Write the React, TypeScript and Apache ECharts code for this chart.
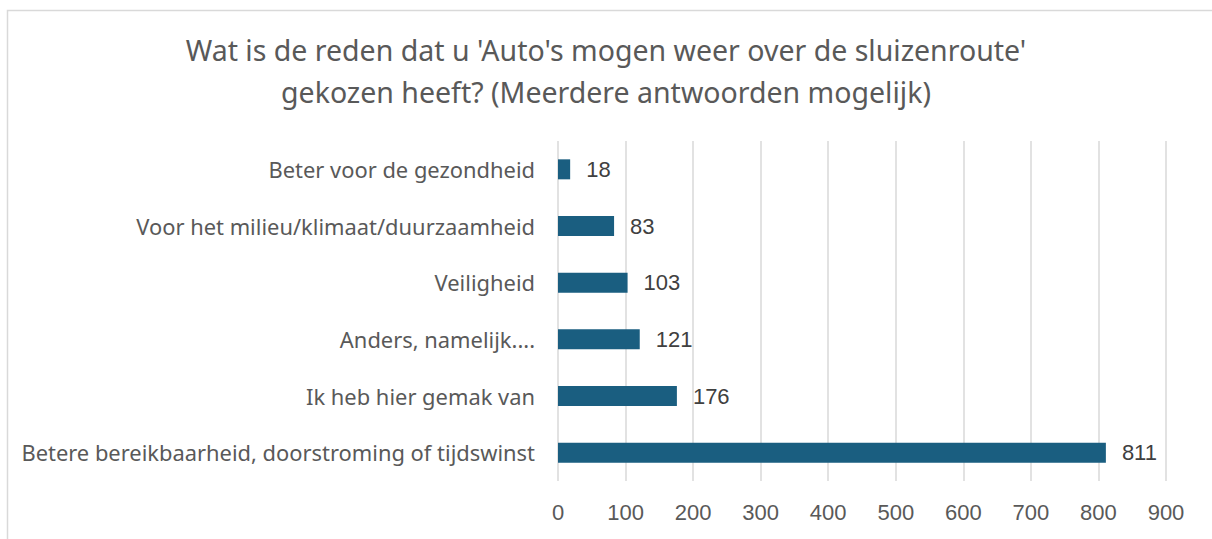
import React, { useEffect, useRef } from "react";
import * as echarts from "echarts";

const categories = [
  "Betere bereikbaarheid, doorstroming of tijdswinst",
  "Ik heb hier gemak van",
  "Anders, namelijk....",
  "Veiligheid",
  "Voor het milieu/klimaat/duurzaamheid",
  "Beter voor de gezondheid",
];
const values = [811, 176, 121, 103, 83, 18];
const titleLines = [
  "Wat is de reden dat u 'Auto's mogen weer over de sluizenroute'",
  "gekozen heeft? (Meerdere antwoorden mogelijk)",
];

export default function App() {
  const ref = useRef<HTMLDivElement>(null);
  useEffect(() => {
    if (!ref.current) return;
    const chart = echarts.init(ref.current, undefined, { renderer: "svg" });
    chart.setOption({
      animation: false,
      backgroundColor: "#ffffff",
      title: {
        text: titleLines.join("\n"),
        left: "center",
        top: 24,
        textStyle: {
          fontFamily: "'Noto Sans', sans-serif",
          fontSize: 28.5,
          fontWeight: "normal",
          color: "#595959",
          lineHeight: 42,
        },
      },
      graphic: [
        {
          type: "rect",
          shape: { x: 7.5, y: 10.5, width: 1230, height: 560 },
          style: { fill: "none", stroke: "#d9d9d9", lineWidth: 1.5 },
          silent: true,
        },
      ],
      grid: { left: 558, right: 46, top: 141, bottom: 58, containLabel: false },
      xAxis: {
        type: "value",
        min: 0,
        max: 900,
        interval: 100,
        axisLine: { show: false },
        axisTick: { show: false },
        splitLine: { show: true, lineStyle: { color: "#d9d9d9", width: 1.5 } },
        axisLabel: {
          margin: 20,
          fontFamily: "'Liberation Sans', Arial, sans-serif",
          fontSize: 22,
          color: "#595959",
        },
      },
      yAxis: {
        type: "category",
        data: categories,
        axisLine: { show: false },
        axisTick: { show: false },
        axisLabel: {
          margin: 23,
          fontFamily: "'Noto Sans', sans-serif",
          fontSize: 21.9,
          color: "#595959",
        },
      },
      series: [
        {
          type: "bar",
          data: values,
          barWidth: 20,
          itemStyle: { color: "#1a5e80" },
          label: {
            show: true,
            position: "right",
            distance: 16,
            fontFamily: "'Liberation Sans', Arial, sans-serif",
            fontSize: 22,
            color: "#404040",
          },
        },
      ],
    });
    return () => chart.dispose();
  }, []);
  return (
    <div
      ref={ref}
      style={{ position: "absolute", left: 0, top: 0, width: 1212, height: 539 }}
    />
  );
}
